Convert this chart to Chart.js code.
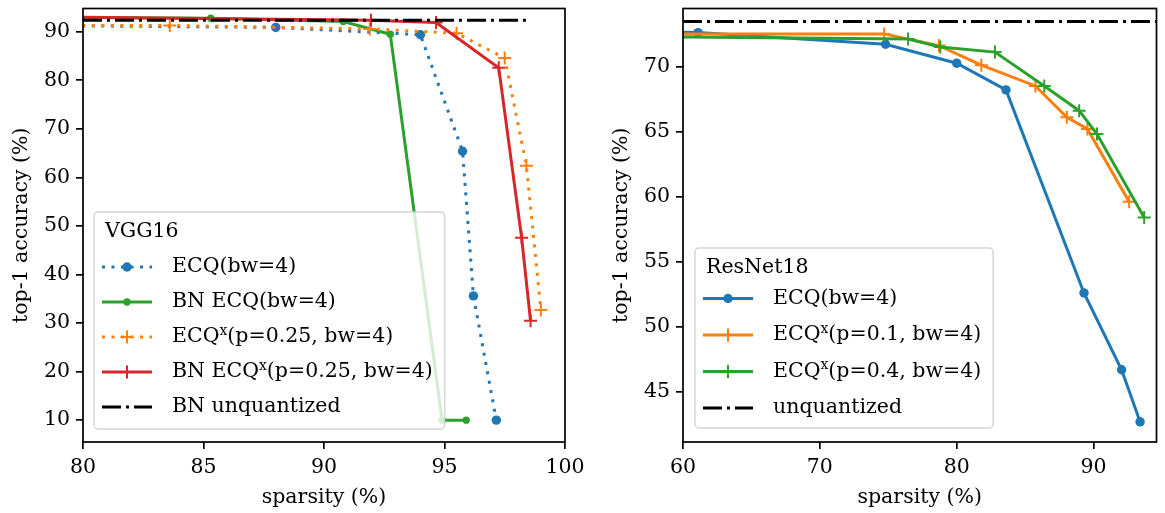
<!DOCTYPE html>
<html>
<head>
<meta charset="utf-8">
<script src="https://cdn.jsdelivr.net/npm/chart.js@4.4.1/dist/chart.umd.min.js"></script>
<style>
  html, body { margin: 0; padding: 0; background: #fff; }
  #wrap { position: relative; width: 1165px; height: 513px; }
  canvas { position: absolute; top: 0; }
  #vgg { left: 0; }
  #resnet { left: 600px; }
</style>
</head>
<body>
<div id="wrap">
  <canvas id="vgg" width="600" height="513"></canvas>
  <canvas id="resnet" width="565" height="513"></canvas>
</div>
<script>
// VGG16 panel (sparsity %, top-1 %)
const vggEcqX = [78, 88.0, 94.0, 95.75, 96.2, 97.15];
const vggEcqY = [91.3, 90.9, 89.4, 65.4, 35.6, 10.0];
const vggBnEcqX = [78, 85.3, 90.8, 92.75, 94.9, 95.9];
const vggBnEcqY = [93.0, 92.8, 92.1, 89.5, 10.0, 10.0];
const vggEcqxX = [78, 83.6, 91.9, 95.5, 97.5, 98.4, 99.0];
const vggEcqxY = [91.3, 91.3, 90.6, 89.7, 84.6, 62.4, 32.7];
const vggBnEcqxX = [78, 91.95, 94.65, 97.25, 98.2, 98.57];
const vggBnEcqxY = [93.1, 92.4, 91.9, 82.6, 47.6, 30.5];
const vggBaseX = [80, 98.57];
const vggBaseY = [92.4, 92.4];
const vggXTicks = [80, 85, 90, 95, 100];
const vggYTicks = [10, 20, 30, 40, 50, 60, 70, 80, 90];

// ResNet18 panel
const resEcqX = [55, 61.1, 74.8, 80.0, 83.6, 89.3, 92.05, 93.4];
const resEcqY = [72.7, 72.6, 71.7, 70.25, 68.2, 52.6, 46.7, 42.7];
const resP01X = [55, 74.7, 78.7, 81.8, 85.75, 88.05, 89.55, 92.6];
const resP01Y = [72.5, 72.5, 71.6, 70.1, 68.5, 66.1, 65.2, 59.6];
const resP04X = [55, 76.45, 78.8, 82.8, 86.4, 88.95, 90.25, 93.7];
const resP04Y = [72.3, 72.1, 71.5, 71.1, 68.5, 66.6, 64.8, 58.4];
const resBaseX = [60, 94.6];
const resBaseY = [73.45, 73.45];
const resXTicks = [60, 70, 80, 90];
const resYTicks = [45, 50, 55, 60, 65, 70];

const SERIF = "'DejaVu Serif', 'Liberation Serif', serif";
const FSIZE = 20.5;
const FONT = FSIZE + "px " + SERIF;
const SUPFONT = Math.round(FSIZE * 0.68) + "px " + SERIF;

const BLUE = "#1f77b4", ORANGE = "#ff7f0e", GREEN = "#2ca02c", RED = "#d62728";
const DOTS = [3, 6.5];
const DASHDOT = [19, 5, 3, 5];

function pts(xs, ys) {
  return xs.map((x, i) => ({ x: x, y: ys[i] }));
}

function series(label, xs, ys, color, dash, marker, size) {
  return {
    label: label,
    data: pts(xs, ys),
    borderColor: color,
    backgroundColor: color,
    borderWidth: 3,
    borderDash: dash,
    tension: 0,
    pointStyle: marker || false,
    pointRadius: (c) => (!marker || (c.raw && c.raw.x < c.chart.scales.x.min)) ? 0 : size,
    pointBackgroundColor: color,
    pointBorderColor: color,
    pointBorderWidth: marker === "cross" ? 2 : 0,
  };
}

function drawLabel(ctx, text, x, y, draw) {
  const parts = text.split("ˣ");
  let cx = x;
  parts.forEach((p, i) => {
    if (i > 0) {
      ctx.font = SUPFONT;
      if (draw) ctx.fillText("x", cx, y - 6);
      cx += ctx.measureText("x").width;
      ctx.font = FONT;
    }
    if (draw) ctx.fillText(p, cx, y);
    cx += ctx.measureText(p).width;
  });
  return cx - x;
}

function drawMarker(ctx, style, x, y, r, color) {
  ctx.save();
  ctx.setLineDash([]);
  ctx.fillStyle = color;
  ctx.strokeStyle = color;
  if (style === "circle") {
    ctx.beginPath();
    ctx.arc(x, y, r, 0, Math.PI * 2);
    ctx.fill();
  } else if (style === "cross") {
    ctx.lineWidth = 2;
    ctx.beginPath();
    ctx.moveTo(x - r, y); ctx.lineTo(x + r, y);
    ctx.moveTo(x, y - r); ctx.lineTo(x, y + r);
    ctx.stroke();
  }
  ctx.restore();
}

// frame on all four sides + matplotlib style legend box
const frameLegend = {
  id: "frameLegend",
  afterDatasetsDraw(chart, args, opts) {
    const { ctx, chartArea: a } = chart;
    ctx.save();
    ctx.strokeStyle = "#000";
    ctx.lineWidth = 1.7;
    ctx.strokeRect(a.left, a.top, a.right - a.left, a.bottom - a.top);

    const sets = chart.data.datasets;
    const n = sets.length;
    ctx.font = FONT;
    ctx.textBaseline = "middle";
    let maxW = ctx.measureText(opts.title).width;
    sets.forEach((ds) => { maxW = Math.max(maxW, drawLabel(ctx, ds.label, 0, 0, false)); });

    const rowY = (i) => opts.bottom - opts.lastPad - (n - 1 - i) * opts.gap;
    const titleY = rowY(0) - opts.titleGap;
    const top = titleY - opts.topPad;
    const left = opts.left;
    const right = left + 78 + maxW + 12;

    ctx.beginPath();
    ctx.roundRect(left, top, right - left, opts.bottom - top, 4);
    ctx.fillStyle = "rgba(255,255,255,0.8)";
    ctx.fill();
    ctx.strokeStyle = "rgba(204,204,204,0.8)";
    ctx.lineWidth = 1.5;
    ctx.stroke();

    ctx.fillStyle = "#000";
    ctx.fillText(opts.title, left + 11, titleY);

    sets.forEach((ds, i) => {
      const y = rowY(i);
      ctx.save();
      ctx.strokeStyle = ds.borderColor;
      ctx.lineWidth = ds.borderWidth;
      ctx.setLineDash(ds.borderDash || []);
      ctx.beginPath();
      ctx.moveTo(left + 8, y);
      ctx.lineTo(left + 58, y);
      ctx.stroke();
      ctx.restore();
      if (ds.pointStyle) {
        const r = ds.pointStyle === "cross" ? 6.5 : (ds.legendRadius || 4.7);
        drawMarker(ctx, ds.pointStyle, left + 33, y, r, ds.borderColor);
      }
      ctx.fillStyle = "#000";
      drawLabel(ctx, ds.label, left + 78, y, true);
    });
    ctx.restore();
  },
};

function axes(xMin, xMax, xTicks, yMin, yMax, yTicks) {
  const font = { family: SERIF, size: FSIZE };
  const common = (ticks) => ({
    type: "linear",
    grid: { display: true, drawOnChartArea: false, drawTicks: true, tickLength: 7, color: "#000", lineWidth: 1.7 },
    border: { display: false },
    ticks: { color: "#000", font: font, padding: 6, autoSkip: false, maxRotation: 0 },
    afterBuildTicks: (s) => { s.ticks = ticks.map((v) => ({ value: v })); },
  });
  return {
    x: Object.assign(common(xTicks), {
      min: xMin, max: xMax,
      title: { display: true, text: "sparsity (%)", color: "#000", font: font, padding: { top: 0, bottom: 3 } },
      afterFit: (s) => { s.height = 71; s.paddingLeft = 0; s.paddingRight = 0; },
    }),
    y: Object.assign(common(yTicks), {
      min: yMin, max: yMax,
      title: { display: true, text: "top-1 accuracy (%)", color: "#000", font: font, padding: { top: 9, bottom: 0 } },
      afterFit: (s) => { s.width = 83; s.paddingTop = 0; s.paddingBottom = 0; },
    }),
  };
}

function withOrder(sets) {
  sets.forEach((ds, i) => { ds.order = sets.length - i; });
  return sets;
}

const vggSets = withOrder([
  series("ECQ(bw=4)", vggEcqX, vggEcqY, BLUE, DOTS, "circle", 4.7),
  series("BN ECQ(bw=4)", vggBnEcqX, vggBnEcqY, GREEN, [], "circle", 3.7),
  series("ECQˣ(p=0.25, bw=4)", vggEcqxX, vggEcqxY, ORANGE, DOTS, "cross", 6.5),
  series("BN ECQˣ(p=0.25, bw=4)", vggBnEcqxX, vggBnEcqxY, RED, [], "cross", 6.5),
  series("BN unquantized", vggBaseX, vggBaseY, "#000", DASHDOT, null, 0),
]);
vggSets[1].legendRadius = 3.7;

const resSets = withOrder([
  series("ECQ(bw=4)", resEcqX, resEcqY, BLUE, [], "circle", 4.7),
  series("ECQˣ(p=0.1, bw=4)", resP01X, resP01Y, ORANGE, [], "cross", 6.5),
  series("ECQˣ(p=0.4, bw=4)", resP04X, resP04Y, GREEN, [], "cross", 6.5),
  series("unquantized", resBaseX, resBaseY, "#000", DASHDOT, null, 0),
]);

new Chart(document.getElementById("vgg"), {
  type: "line",
  data: { datasets: vggSets },
  plugins: [frameLegend],
  options: {
    responsive: false,
    animation: false,
    events: [],
    layout: { padding: { left: 0, right: 35, top: 3, bottom: 0 } },
    scales: axes(80, 100, vggXTicks, 5.5, 94.8, vggYTicks),
    plugins: {
      legend: { display: false },
      tooltip: { enabled: false },
      frameLegend: { title: "VGG16", left: 94, bottom: 429, lastPad: 22, gap: 35, titleGap: 35, topPad: 20 },
    },
  },
});

new Chart(document.getElementById("resnet"), {
  type: "line",
  data: { datasets: resSets },
  plugins: [frameLegend],
  options: {
    responsive: false,
    animation: false,
    events: [],
    layout: { padding: { left: 0, right: 3, top: 3, bottom: 0 } },
    scales: axes(60, 94.6, resXTicks, 41.15, 74.45, resYTicks),
    plugins: {
      legend: { display: false },
      tooltip: { enabled: false },
      frameLegend: { title: "ResNet18", left: 95, bottom: 428, lastPad: 20, gap: 36.5, titleGap: 31, topPad: 19.5 },
    },
  },
});
</script>
</body>
</html>
